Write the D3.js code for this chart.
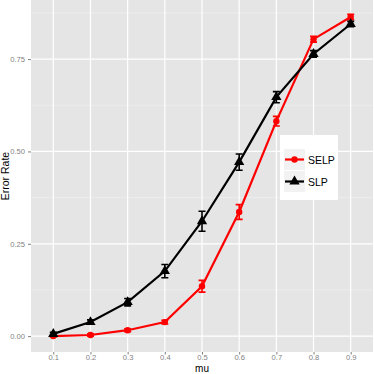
<!DOCTYPE html>
<html>
<head>
<meta charset="utf-8">
<script src="https://cdnjs.cloudflare.com/ajax/libs/d3/7.8.5/d3.min.js"></script>
<style>
  body { margin: 0; background: #fff; }
  text { font-family: "Liberation Sans", Arial, sans-serif; }
</style>
</head>
<body>
<div id="main"></div>
<script>
const muLabels = ["0.1", "0.2", "0.3", "0.4", "0.5", "0.6", "0.7", "0.8", "0.9"];
const selpRate = [0.000, 0.003, 0.016, 0.038, 0.135, 0.336, 0.582, 0.804, 0.864];
const selpErr  = [0.002, 0.003, 0.004, 0.005, 0.016, 0.020, 0.013, 0.008, 0.007];
const slpRate  = [0.006, 0.038, 0.092, 0.176, 0.311, 0.471, 0.647, 0.764, 0.845];
const slpErr   = [0.004, 0.006, 0.010, 0.018, 0.027, 0.022, 0.015, 0.009, 0.007];
const yTicks = [0, 0.25, 0.5, 0.75];
const yMinor = [0.125, 0.375, 0.625, 0.875];

const svgWidth = 374, svgHeight = 374;
const panelLeft = 31, panelRight = 373, panelTop = 0, panelBottom = 352;

const series = [
  { name: "SELP", color: "#ff0000", shape: "circle", values: selpRate, err: selpErr },
  { name: "SLP", color: "#000000", shape: "triangle", values: slpRate, err: slpErr }
];

const svg = d3.select("#main").append("svg")
  .attr("width", svgWidth).attr("height", svgHeight);

// scales
const x = d3.scalePoint().domain(muLabels)
  .range([panelLeft, panelRight]).padding(0.6);
const y = d3.scaleLinear().domain([-0.043, 0.91])
  .range([panelBottom, panelTop]);

// panel + grid
svg.append("rect")
  .attr("x", panelLeft).attr("y", panelTop)
  .attr("width", panelRight - panelLeft).attr("height", panelBottom - panelTop)
  .attr("fill", "#e5e5e5");

svg.append("g").selectAll("line").data(yMinor).enter().append("line")
  .attr("x1", panelLeft).attr("x2", panelRight)
  .attr("y1", d => y(d)).attr("y2", d => y(d))
  .attr("stroke", "#f2f2f2").attr("stroke-width", 0.6);

svg.append("g").selectAll("line").data(yTicks).enter().append("line")
  .attr("x1", panelLeft).attr("x2", panelRight)
  .attr("y1", d => y(d)).attr("y2", d => y(d))
  .attr("stroke", "#ffffff").attr("stroke-width", 1.2);

svg.append("g").selectAll("line").data(muLabels).enter().append("line")
  .attr("x1", d => x(d)).attr("x2", d => x(d))
  .attr("y1", panelTop).attr("y2", panelBottom)
  .attr("stroke", "#ffffff").attr("stroke-width", 1.2);

// axes
const xAxis = svg.append("g")
  .attr("transform", "translate(0," + panelBottom + ")")
  .call(d3.axisBottom(x).tickSize(2.5).tickPadding(0));
const yAxis = svg.append("g")
  .attr("transform", "translate(" + panelLeft + ",0)")
  .call(d3.axisLeft(y).tickValues(yTicks).tickFormat(d3.format(".2f")).tickSize(3).tickPadding(3));
[xAxis, yAxis].forEach(a => {
  a.select(".domain").remove();
  a.selectAll(".tick line").attr("stroke", "#7f7f7f");
  a.selectAll(".tick text").attr("fill", "#7f7f7f")
    .style("font-size", "7.6px").style("font-family", "Liberation Sans, Arial, sans-serif");
});

// labels
svg.append("text").text("mu")
  .attr("x", (panelLeft + panelRight) / 2).attr("y", 371.7)
  .attr("text-anchor", "middle").style("font-size", "10px");
svg.append("text").text("Error Rate")
  .attr("transform", "rotate(-90)")
  .attr("x", -(panelTop + panelBottom) / 2).attr("y", 9)
  .attr("text-anchor", "middle").style("font-size", "10.5px");

// series
const line = d3.line().x((d, i) => x(muLabels[i])).y(d => y(d));
const triangle = d3.symbol().type(d3.symbolTriangle).size(46);
const capW = 3.5;

series.forEach(s => {
  const g = svg.append("g");
  g.append("path").datum(s.values)
    .attr("d", line).attr("fill", "none")
    .attr("stroke", s.color).attr("stroke-width", 2.2);

  g.append("g").selectAll("path").data(s.values).enter().append("path")
    .attr("d", (d, i) => {
      const cx = x(muLabels[i]), lo = y(d - s.err[i]), hi = y(d + s.err[i]);
      return "M" + (cx - capW) + "," + hi + "H" + (cx + capW) +
        "M" + cx + "," + hi + "V" + lo +
        "M" + (cx - capW) + "," + lo + "H" + (cx + capW);
    })
    .attr("fill", "none").attr("stroke", s.color).attr("stroke-width", 1.6);

  if (s.shape === "circle") {
    g.append("g").selectAll("circle").data(s.values).enter().append("circle")
      .attr("cx", (d, i) => x(muLabels[i])).attr("cy", d => y(d))
      .attr("r", 3.2).attr("fill", s.color);
  } else {
    g.append("g").selectAll("path").data(s.values).enter().append("path")
      .attr("d", triangle)
      .attr("transform", (d, i) => "translate(" + x(muLabels[i]) + "," + y(d) + ")")
      .attr("fill", s.color);
  }
});

// legend
const legX = 280, legY = 135, keySize = 21;
const legend = svg.append("g").attr("transform", "translate(" + legX + "," + legY + ")");
legend.append("rect").attr("width", 58).attr("height", 65).attr("fill", "#ffffff");
series.forEach((s, i) => {
  const ky = 14 + i * (keySize + 1);
  const k = legend.append("g").attr("transform", "translate(4," + ky + ")");
  k.append("rect").attr("width", keySize).attr("height", keySize).attr("fill", "#f2f2f2");
  k.append("line").attr("x1", 1).attr("x2", keySize - 1)
    .attr("y1", keySize / 2).attr("y2", keySize / 2)
    .attr("stroke", s.color).attr("stroke-width", 2.2);
  if (s.shape === "circle") {
    k.append("circle").attr("cx", keySize / 2).attr("cy", keySize / 2).attr("r", 3.2).attr("fill", s.color);
  } else {
    k.append("path").attr("d", triangle)
      .attr("transform", "translate(" + keySize / 2 + "," + keySize / 2 + ")").attr("fill", s.color);
  }
  legend.append("text").text(s.name)
    .attr("x", keySize + 7).attr("y", ky + keySize / 2)
    .attr("dominant-baseline", "central").style("font-size", "10.5px");
});
</script>
</body>
</html>
